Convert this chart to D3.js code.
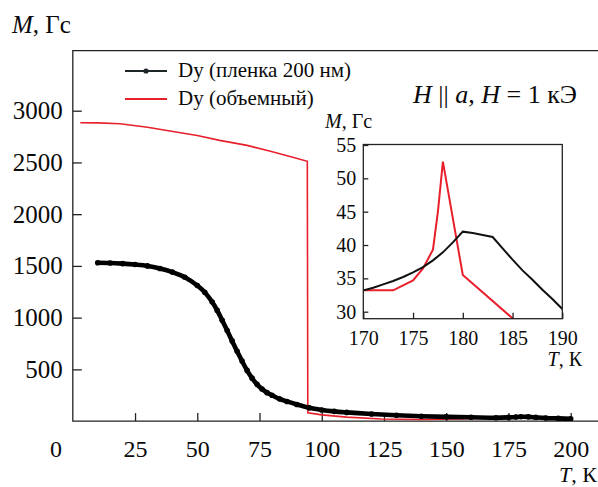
<!DOCTYPE html>
<html><head><meta charset="utf-8">
<script src="https://cdn.jsdelivr.net/npm/d3@7"></script>
<style>
body{margin:0;background:#fff;}
svg{display:block;font-family:"Liberation Serif","Times New Roman",serif;}
</style></head>
<body><svg id="c" width="598" height="487"></svg>
<script>
// ---- data ----
const filmT = [10,15,20,25,30,35,40,45,50,53,56,58,60,62,64,66,68,70,72,74,76,78,80,83,86,90,95,100,105,110,120,130,140,150,160,170,175,178,180,183,186,190,195,200];
const filmM = [1530,1528,1522,1513,1500,1475,1440,1390,1310,1245,1150,1070,975,875,775,675,580,490,415,355,310,275,250,215,190,160,128,108,94,84,68,56,47,41,37,33,36,39,42,41,36,30,26,22];
const bulkT = [3,10,19,30,39,50,59,70,79,88,94.2,94.4,100,110,124,140,155,165,170,173,175,176,177,178,180,185,190,200];
const bulkM = [2884,2882,2874,2840,2803,2760,2713,2665,2610,2553,2511,80,60,38,20,16,20,28,33.2,33.2,34.7,36.6,39.2,52.5,35.5,29,22,10];
const insetFilmT = [170,171,172,173,174,175,176,177,178,179,180,181,182,183,184,185,186,187,188,189,190];
const insetFilmM = [33.2,33.6,34.1,34.6,35.2,35.9,36.7,37.7,38.9,40.4,42.0,41.8,41.5,41.2,39.5,37.8,36.2,34.8,33.3,31.9,30.4];
const insetBulkT = [170,173,175,176,177,177.5,178,180,185,186];
const insetBulkM = [33.2,33.2,34.7,36.5,39.3,45,52.5,35.5,29.0,27.7];
const xTicks = [25,50,75,100,125,150,175,200];
const yTicks = [500,1000,1500,2000,2500,3000];
const insetXTicks = [170,175,180,185,190];
const insetYTicks = [30,35,40,45,50,55];
const legendLabels = ["Dy (пленка 200 нм)","Dy (объемный)"];

(function(){
const RED = "#e8202c";
const FONT = "Liberation Serif";
const TXT = "#0a0a0a";
const svg = d3.select("#c");

const x = d3.scaleLinear().domain([0,200]).range([72.8,570.7]);
const y = d3.scaleLinear().domain([0,3000]).range([421.1,110.7]);
const pL = 72.8, pR = 598, pT = 50.7, pB = 421.1;

svg.append("clipPath").attr("id","mainclip").append("rect")
  .attr("x",pL).attr("y",pT).attr("width",pR-pL).attr("height",pB-pT);

const g = svg.append("g");
g.append("path").attr("d",`M${pR},${pT}H${pL}V${pB}H${pR}`)
  .attr("fill","none").attr("stroke","#222").attr("stroke-width",1.3);

const xAxis = d3.axisBottom(x).tickValues(xTicks).tickSize(-8).tickPadding(19).tickFormat(d3.format("d"));
const gx = g.append("g").attr("transform",`translate(0,${pB})`).call(xAxis);
gx.select(".domain").remove();
gx.selectAll("line").attr("stroke","#222").attr("stroke-width",1.3);
gx.selectAll("text").attr("font-size",24).attr("fill",TXT).attr("font-family",FONT);

const yAxis = d3.axisLeft(y).tickValues(yTicks).tickSize(-9).tickPadding(10).tickFormat(d3.format("d"));
const gy = g.append("g").attr("transform",`translate(${pL},0)`).call(yAxis);
gy.select(".domain").remove();
gy.selectAll("line").attr("stroke","#222").attr("stroke-width",1.3);
gy.selectAll("text").attr("font-size",25).attr("fill",TXT).attr("font-family",FONT);

g.append("text").attr("x",56).attr("y",457).attr("text-anchor","middle")
  .attr("font-size",24).attr("fill",TXT).text("0");

const mt = g.append("text").attr("x",12).attr("y",33).attr("font-size",25).attr("fill",TXT);
mt.append("tspan").attr("font-style","italic").text("M");
mt.append("tspan").text(", Гс");
const tt = g.append("text").attr("x",597).attr("y",482).attr("text-anchor","end").attr("font-size",22).attr("fill",TXT);
tt.append("tspan").attr("font-style","italic").text("T");
tt.append("tspan").text(", К");

const film = filmT.map((t,i)=>({t, m:filmM[i]}));
const bulk = bulkT.map((t,i)=>({t, m:bulkM[i]}));
const line = d3.line().x(d=>x(d.t)).y(d=>y(d.m)).curve(d3.curveMonotoneX);
const lineL = d3.line().x(d=>x(d.t)).y(d=>y(d.m));
const series = g.append("g").attr("clip-path","url(#mainclip)");
series.append("path").datum(bulk).attr("d",lineL).attr("fill","none").attr("stroke",RED).attr("stroke-width",1.6);
series.append("path").datum(film).attr("d",line).attr("fill","none").attr("stroke","#000").attr("stroke-width",4.6).attr("stroke-linecap","round");
series.selectAll("circle.f").data(film).enter().append("circle").attr("class","f")
  .attr("cx",d=>x(d.t)).attr("cy",d=>y(d.m)).attr("r",2.8).attr("fill","#000");

const lg = g.append("g");
lg.append("line").attr("x1",125).attr("x2",167).attr("y1",71).attr("y2",71).attr("stroke","#1d2626").attr("stroke-width",2);
lg.append("circle").attr("cx",146).attr("cy",71).attr("r",2.6).attr("fill","#1d2626");
lg.append("line").attr("x1",125).attr("x2",167).attr("y1",99).attr("y2",99).attr("stroke",RED).attr("stroke-width",2);
lg.selectAll("text").data(legendLabels).enter().append("text")
  .attr("x",178).attr("y",(d,i)=>77+i*28).attr("font-size",21).attr("fill",TXT).text(d=>d);

const an = g.append("text").attr("x",413).attr("y",103).attr("font-size",26).attr("fill",TXT);
an.append("tspan").attr("font-style","italic").text("H");
an.append("tspan").text(" || ");
an.append("tspan").attr("font-style","italic").text("a");
an.append("tspan").text(", ");
an.append("tspan").attr("font-style","italic").text("H");
an.append("tspan").text(" = 1 кЭ");

// ---- inset ----
const ix = d3.scaleLinear().domain([170,190]).range([363.3,562.3]);
const iy = d3.scaleLinear().domain([30,55]).range([311.7,145]);
const iL=363.3, iR=562.3, iT=144.5, iB=318.7;
svg.append("clipPath").attr("id","insetclip").append("rect")
  .attr("x",iL).attr("y",iT).attr("width",iR-iL).attr("height",iB-iT);
const ig = svg.append("g");
ig.append("rect").attr("x",iL).attr("y",iT).attr("width",iR-iL).attr("height",iB-iT).attr("fill","#fff");
const ifilm = insetFilmT.map((t,i)=>({t,m:insetFilmM[i]}));
const ibulk = insetBulkT.map((t,i)=>({t,m:insetBulkM[i]}));
const il = d3.line().x(d=>ix(d.t)).y(d=>iy(d.m));
const ics = ig.append("g").attr("clip-path","url(#insetclip)");
ics.append("path").datum(ibulk).attr("d",il).attr("fill","none").attr("stroke",RED).attr("stroke-width",2);
ics.append("path").datum(ifilm).attr("d",il).attr("fill","none").attr("stroke","#111").attr("stroke-width",2);
ig.append("rect").attr("x",iL).attr("y",iT).attr("width",iR-iL).attr("height",iB-iT)
  .attr("fill","none").attr("stroke","#222").attr("stroke-width",1.3);
const igx = ig.append("g").attr("transform",`translate(0,${iB})`)
  .call(d3.axisBottom(ix).tickValues(insetXTicks).tickSize(-6).tickPadding(12).tickFormat(d3.format("d")));
igx.select(".domain").remove();
igx.selectAll("line").attr("stroke","#222").attr("stroke-width",1.3);
igx.selectAll("text").attr("font-size",20).attr("fill",TXT).attr("font-family",FONT);
const igy = ig.append("g").attr("transform",`translate(${iL},0)`)
  .call(d3.axisLeft(iy).tickValues(insetYTicks).tickSize(-5).tickPadding(7).tickFormat(d3.format("d")));
igy.select(".domain").remove();
igy.selectAll("line").attr("stroke","#222").attr("stroke-width",1.3);
igy.selectAll("text").attr("font-size",20).attr("fill",TXT).attr("font-family",FONT);
const imt = ig.append("text").attr("x",325).attr("y",128).attr("font-size",20).attr("fill",TXT);
imt.append("tspan").attr("font-style","italic").text("M");
imt.append("tspan").text(", Гс");
const itt = ig.append("text").attr("x",582).attr("y",366).attr("text-anchor","end").attr("font-size",20).attr("fill",TXT);
itt.append("tspan").attr("font-style","italic").text("T");
itt.append("tspan").text(", К");
})();
</script></body></html>
